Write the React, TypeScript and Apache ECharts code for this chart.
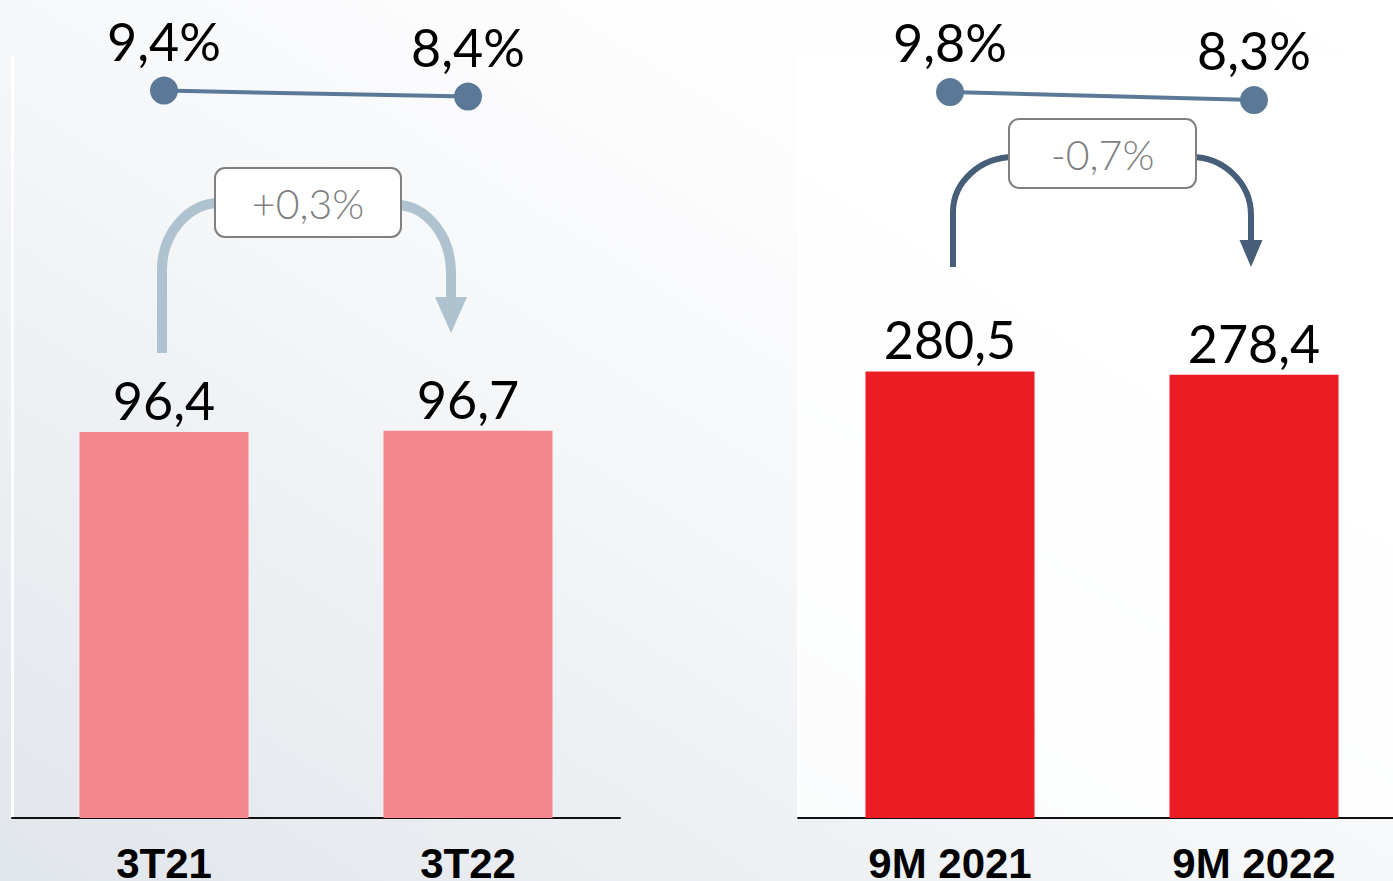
import React, { useEffect, useRef } from "react";
import * as echarts from "echarts";

const leftCategories = ["3T21", "3T22"];
const rightCategories = ["9M 2021", "9M 2022"];
const leftBars = [96.4, 96.7];
const rightBars = [280.5, 278.4];
const leftMargins = [9.4, 8.4];
const rightMargins = [9.8, 8.3];
const leftChange = "+0,3%";
const rightChange = "-0,7%";

const fmt = (v: number) => v.toFixed(1).replace(".", ",");
const FONT = "Lato, 'Open Sans', sans-serif";

function arrowElements(o: {
  xL: number; yStart: number; yCurveL: number; yTop: number; xBoxL: number; xBoxR: number;
  yTopR: number; xR: number; yCurveR: number; yHead: number; yTip: number; headW: number;
  boxTop: number; boxH: number; color: string; lw: number; text: string;
}) {
  const k = 0.55;
  const style = { stroke: o.color, lineWidth: o.lw, fill: "none" };
  return [
    { type: "line", z: 10, shape: { x1: o.xL, y1: o.yStart, x2: o.xL, y2: o.yCurveL }, style },
    {
      type: "bezierCurve", z: 10,
      shape: {
        x1: o.xL, y1: o.yCurveL, x2: o.xBoxL + 5, y2: o.yTop,
        cpx1: o.xL, cpy1: o.yCurveL - k * (o.yCurveL - o.yTop),
        cpx2: o.xBoxL + 5 - k * (o.xBoxL + 5 - o.xL), cpy2: o.yTop,
      },
      style,
    },
    {
      type: "bezierCurve", z: 10,
      shape: {
        x1: o.xBoxR - 5, y1: o.yTopR, x2: o.xR, y2: o.yCurveR,
        cpx1: o.xBoxR - 5 + k * (o.xR - o.xBoxR + 5), cpy1: o.yTopR,
        cpx2: o.xR, cpy2: o.yCurveR - k * (o.yCurveR - o.yTopR),
      },
      style,
    },
    { type: "line", z: 10, shape: { x1: o.xR, y1: o.yCurveR, x2: o.xR, y2: o.yHead + 1 }, style },
    {
      type: "polygon", z: 10,
      shape: { points: [[o.xR - o.headW / 2, o.yHead], [o.xR + o.headW / 2, o.yHead], [o.xR, o.yTip]] },
      style: { fill: o.color },
    },
    {
      type: "rect", z: 11,
      shape: { x: o.xBoxL, y: o.boxTop, width: o.xBoxR - o.xBoxL, height: o.boxH, r: 10 },
      style: { fill: "#FFFFFF", stroke: "#808080", lineWidth: 2 },
    },
    {
      type: "text", z: 12,
      x: (o.xBoxL + o.xBoxR) / 2, y: o.boxTop + o.boxH / 2 + 1,
      style: {
        text: o.text, fill: "#7F7F7F", font: `300 41px ${FONT}`,
        textAlign: "center", textVerticalAlign: "middle",
      },
    },
  ];
}

export default function App() {
  const ref = useRef<HTMLDivElement>(null);
  useEffect(() => {
    if (!ref.current) return;
    const chart = echarts.init(ref.current, null, { renderer: "svg" });
    const catAxis = (gridIndex: number, data: string[], show: boolean) => ({
      type: "category", gridIndex, data,
      axisLine: { show, lineStyle: { color: "#111111", width: 2 } },
      axisTick: { show: false },
      axisLabel: show
        ? { show: true, color: "#000000", fontFamily: "'Liberation Sans', sans-serif", fontWeight: "bold", fontSize: 42, margin: 24 }
        : { show: false },
    });
    const valAxis = (gridIndex: number, max: number, showLine: boolean) => ({
      type: "value", gridIndex, min: 0, max,
      axisLine: { show: showLine, lineStyle: { color: "#FFFFFF", width: 3 } },
      axisTick: { show: false }, axisLabel: { show: false }, splitLine: { show: false },
    });
    const barLabel = {
      show: true, position: "top", distance: 6, color: "#000000",
      fontFamily: FONT, fontWeight: "normal", fontSize: 52,
      formatter: (p: any) => fmt(p.value),
    };
    const lineSeries = (idx: number, data: number[]) => ({
      type: "line", xAxisIndex: idx, yAxisIndex: idx, data,
      symbol: "circle", symbolSize: 28,
      lineStyle: { color: "#5B7896", width: 4 },
      itemStyle: { color: "#5B7896" },
      label: {
        show: true, position: "top", distance: 10, color: "#000000",
        fontFamily: FONT, fontWeight: "normal", fontSize: 52,
        formatter: (p: any) => fmt(p.value) + "%",
      },
      z: 5,
    });
    const g = { outerBoundsMode: "none", containLabel: false };
    chart.setOption({
      animation: false,
      backgroundColor: new echarts.graphic.LinearGradient(0, 1, 1, 0, [
        { offset: 0, color: "#E1E6EB" },
        { offset: 0.45, color: "#F4F6F8" },
        { offset: 0.7, color: "#FDFDFE" },
        { offset: 1, color: "#FFFFFF" },
      ]),
      grid: [
        { ...g, left: 12, width: 608, top: 57, bottom: 63 },
        { ...g, left: 798, width: 608, top: 57, bottom: 63, show: true, backgroundColor: "rgba(255,255,255,0.75)", borderWidth: 0 },
        { ...g, left: 12, width: 608, top: 27, height: 120 },
        { ...g, left: 798, width: 608, top: 37.6, height: 106.7 },
      ],
      xAxis: [
        catAxis(0, leftCategories, true),
        catAxis(1, rightCategories, true),
        catAxis(2, leftCategories, false),
        catAxis(3, rightCategories, false),
      ],
      yAxis: [
        valAxis(0, 190, true),
        valAxis(1, 478, true),
        valAxis(2, 20, false),
        valAxis(3, 20, false),
      ],
      series: [
        { type: "bar", xAxisIndex: 0, yAxisIndex: 0, data: leftBars, barWidth: 169, itemStyle: { color: "#F4888E" }, label: barLabel },
        { type: "bar", xAxisIndex: 1, yAxisIndex: 1, data: rightBars, barWidth: 169, itemStyle: { color: "#EC1C24" }, label: barLabel },
        lineSeries(2, leftMargins),
        lineSeries(3, rightMargins),
      ],
    });
    const lc0 = chart.convertToPixel({ xAxisIndex: 0 }, leftCategories[0]) as number;
    const lc1 = chart.convertToPixel({ xAxisIndex: 0 }, leftCategories[1]) as number;
    const rc0 = chart.convertToPixel({ xAxisIndex: 1 }, rightCategories[0]) as number;
    const rc1 = chart.convertToPixel({ xAxisIndex: 1 }, rightCategories[1]) as number;
    chart.setOption({
      graphic: [
        ...arrowElements({
          xL: lc0 - 2, yStart: 353, yCurveL: 270, yTop: 203, xBoxL: 215, xBoxR: 401,
          yTopR: 205, xR: lc1 - 17, yCurveR: 273, yHead: 297, yTip: 333, headW: 32,
          boxTop: 168, boxH: 69, color: "#AEC3CF", lw: 10, text: leftChange,
        }),
        ...arrowElements({
          xL: rc0 + 3, yStart: 267, yCurveL: 212, yTop: 157, xBoxL: 1009, xBoxR: 1196,
          yTopR: 157, xR: rc1 - 3, yCurveR: 215, yHead: 240, yTip: 267, headW: 23,
          boxTop: 119, boxH: 69, color: "#475E78", lw: 6, text: rightChange,
        }),
      ],
    });
    return () => chart.dispose();
  }, []);
  return (
    <div
      ref={ref}
      style={{ position: "fixed", left: 0, top: 0, width: 1393, height: 881 }}
    />
  );
}
